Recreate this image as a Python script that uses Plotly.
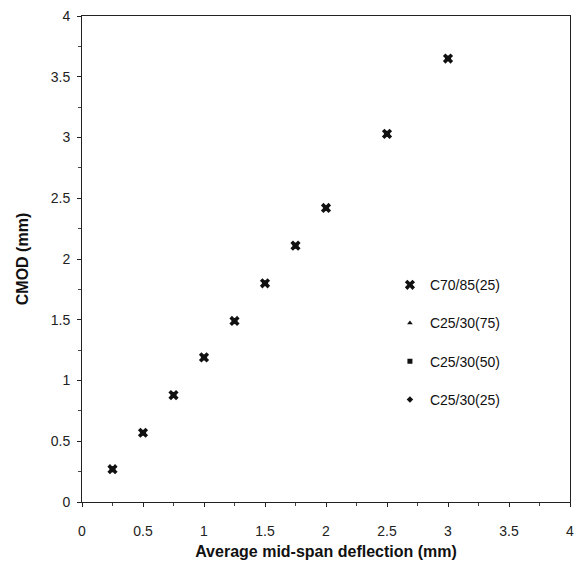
import plotly.graph_objects as go

deflection = [0.25, 0.5, 0.75, 1.0, 1.25, 1.5, 1.75, 2.0, 2.5, 3.0]
cmod_c70_85_25 = [0.27, 0.57, 0.88, 1.19, 1.49, 1.80, 2.11, 2.42, 3.03, 3.65]
cmod_c25_30_75 = [0.27, 0.57, 0.88, 1.19, 1.49, 1.80, 2.11, 2.42, 3.03, 3.65]
cmod_c25_30_50 = [0.27, 0.57, 0.88, 1.19, 1.49, 1.80, 2.11, 2.42, 3.03, 3.65]
cmod_c25_30_25 = [0.27, 0.57, 0.88, 1.19, 1.49, 1.80, 2.11, 2.42, 3.03, 3.65]

series = [
    ("C70/85(25)", cmod_c70_85_25, "x", 9),
    ("C25/30(75)", cmod_c25_30_75, "triangle-up", 5),
    ("C25/30(50)", cmod_c25_30_50, "square", 5),
    ("C25/30(25)", cmod_c25_30_25, "diamond", 5),
]

fig = go.Figure()
for idx in [3, 2, 1, 0]:
    name, ys, sym, size = series[idx]
    fig.add_trace(go.Scatter(
        x=deflection, y=ys, mode="markers", name=name,
        marker=dict(symbol=sym, size=size, color="#111111", line=dict(width=0)),
        legendgroup=name, legendrank=idx + 1,
    ))

font = "Arial, Liberation Sans"
axis_common = dict(
    range=[0, 4], dtick=0.5, showgrid=False, zeroline=False, automargin=False,
    showline=True, linecolor="#222222", linewidth=1, mirror=True,
    ticks="outside", ticklen=4, tickcolor="#222222", ticklabeloverflow="allow",
    minor=dict(ticks="outside", ticklen=3, dtick=0.25, tickcolor="#444444"),
    tickfont=dict(family=font, size=14, color="#222222"),
)

fig.update_layout(
    width=576, height=577,
    margin=dict(l=82, r=6, t=16, b=75),
    paper_bgcolor="white", plot_bgcolor="white",
    xaxis=dict(**axis_common, ticklabelstandoff=12,
               title=dict(text="<b>Average mid-span deflection (mm)</b>",
                          font=dict(family=font, size=16, color="#111111"),
                          standoff=8)),
    yaxis=dict(**axis_common, ticklabelstandoff=4,
               title=dict(text="<b>CMOD (mm)</b>",
                          font=dict(family=font, size=16, color="#111111"),
                          standoff=18)),
    legend=dict(x=0.631, y=0.479, xanchor="left", yanchor="top",
                font=dict(family=font, size=14, color="#111111"),
                bgcolor="rgba(0,0,0,0)", traceorder="grouped", tracegroupgap=17,
                itemwidth=30),
    showlegend=True,
)

fig.write_html(
    "out.html",
    config={"displayModeBar": False},
    post_script="document.body.style.margin='0';document.body.style.overflow='hidden';",
)
